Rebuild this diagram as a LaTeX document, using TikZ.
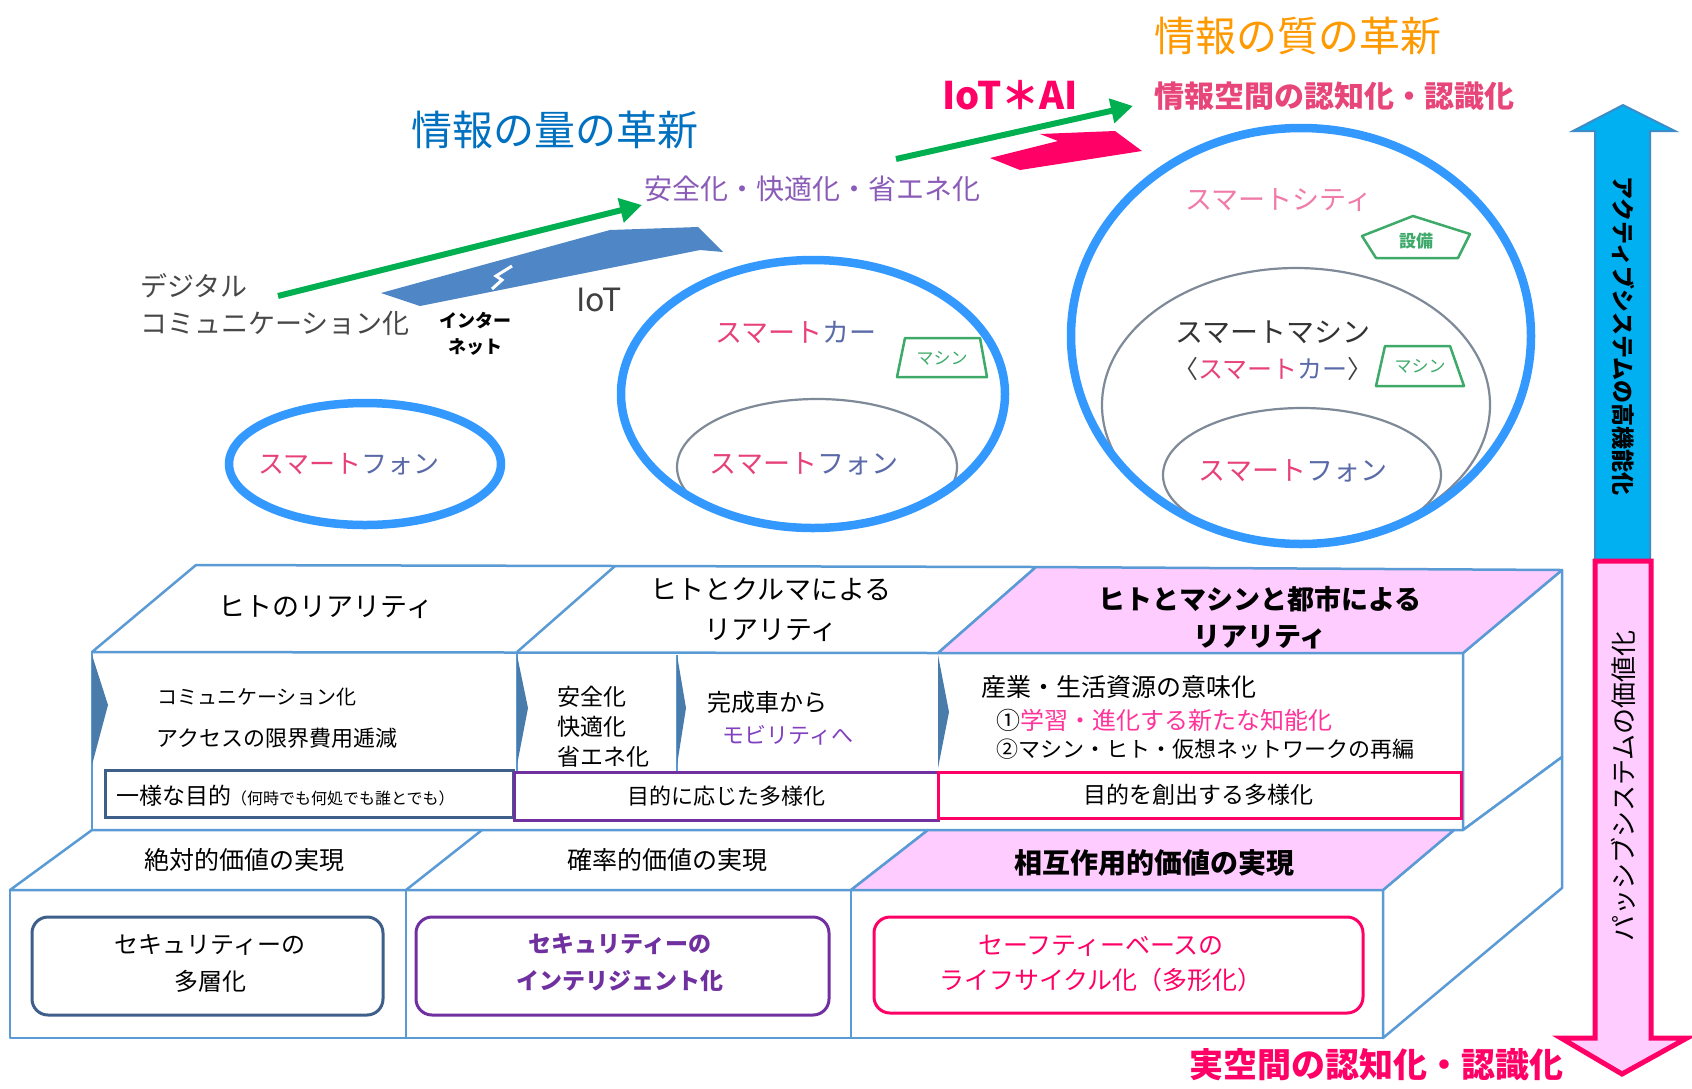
\documentclass[tikz,border=0pt]{standalone}
\usepackage{fontspec}
\setmainfont{Noto Sans CJK JP}
\usetikzlibrary{arrows.meta,shapes.geometric,calc}
\definecolor{boxblue}{HTML}{5B9BD5}
\definecolor{pinkface}{HTML}{FFCCFF}
\definecolor{hotpink}{HTML}{FF0066}
\definecolor{purp}{HTML}{7030A0}
\definecolor{ringblue}{HTML}{3399FF}
\definecolor{grn}{HTML}{00B050}
\definecolor{cyanar}{HTML}{00B0F0}
\definecolor{cyanedge}{HTML}{3C8CC8}
\definecolor{iotblue}{HTML}{4F86C6}
\definecolor{qtyblue}{HTML}{0070C0}
\definecolor{qualorange}{HTML}{FF9900}
\definecolor{smpink}{HTML}{E8407A}
\definecolor{smblue}{HTML}{5A6AA8}
\definecolor{citypink}{HTML}{F07AA8}
\definecolor{greyline}{HTML}{7F8A99}
\definecolor{trapgreen}{HTML}{3DAA6A}
\definecolor{darkbox}{HTML}{3E5F8A}
\definecolor{lavender}{HTML}{8A5CB8}
\definecolor{mobpurple}{HTML}{8040C0}
\definecolor{lightmag}{HTML}{FF3399}
\definecolor{cogpink}{HTML}{E8457A}
\newcommand{\myfs}[2]{\fontsize{#1}{#2}\selectfont}
\begin{document}
\begin{tikzpicture}[x=1pt,y=-1pt,
  every node/.style={inner sep=0pt,outer sep=0pt},
  edge/.style={draw=boxblue,line width=2.5pt,line join=round},
  ring/.style={draw=ringblue,line width=8.5pt},
  innerell/.style={draw=greyline,line width=2.2pt},
  grnarrow/.style={draw=grn,line width=6pt,-{Triangle[length=22pt,width=24pt]}},
  tagshape/.style={draw=trapgreen,line width=2.5pt,fill=white,line join=round},
  chev/.style={fill=boxblue!80!black},
  purposebox/.style={line width=3pt},
  valbox/.style={line width=3pt,rounded corners=16pt}]
\useasboundingbox (0,0) rectangle (1692,1088);
\fill[white] (0,0) rectangle (1692,1088);

% ---------- IoT block arrow ----------
\fill[iotblue] (381,293) -- (610,230) -- (698,227) -- (723,252) -- (700,250) -- (420,306) -- cycle;
\draw[white,line width=3pt,line join=miter] (492,289) -- (502,280) -- (496,276) -- (512,266);
% ---------- IoT*AI block arrow ----------
\fill[hotpink] (990,158) -- (1058,141) -- (1040,134) -- (1115,131) -- (1142,151) -- (1020,170) -- cycle;

% ---------- green arrows ----------
\coordinate (g1s) at (278,296);
\coordinate (g1e) at (642,205);
\coordinate (g2s) at (896,159);
\coordinate (g2e) at (1133,106);
\draw[grnarrow] (g1s) -- (g1e);
\draw[grnarrow] (g2s) -- (g2e);

% ---------- headings ----------
\node[text=qtyblue,font=\myfs{41}{44}] (qty) at (555,130) {情報の量の革新};
\node[text=qualorange,font=\myfs{41}{44}] (qual) at (1298,36) {情報の質の革新};
\node[text=hotpink,font=\bfseries\myfs{38}{40}] (iotai) at (1010,95) {IoT＊AI};
\node[text=cogpink,font=\bfseries\myfs{30}{34}] (cogn) at (1334,96) {情報空間の認知化・認識化};
\node[text=lavender,font=\myfs{28}{32}] (safe) at (812,189) {安全化・快適化・省エネ化};
\node[text=black!72,font=\myfs{27}{37},align=left,anchor=west] (digi) at (140,305) {デジタル\\コミュニケーション化};
\node[font=\bfseries\myfs{18}{26},align=center] (inet) at (475,334) {インター\\ネット};
\node[text=black!75,font=\myfs{32}{36}] (iot) at (599,300) {IoT};

% ---------- ellipses ----------
\draw[ring] (365,464) ellipse [x radius=136pt, y radius=61pt];
\begin{scope}
  \clip (813,394) ellipse [x radius=192pt, y radius=134pt];
  \draw[innerell] (817,467) ellipse [x radius=140pt, y radius=68pt];
\end{scope}
\draw[ring] (813,394) ellipse [x radius=192pt, y radius=134pt];
\begin{scope}
  \clip (1301,336) ellipse [x radius=230pt, y radius=208pt];
  \draw[innerell] (1296,405) ellipse [x radius=194pt, y radius=137pt];
  \draw[innerell] (1302,475) ellipse [x radius=139pt, y radius=67pt];
\end{scope}
\draw[ring] (1301,336) ellipse [x radius=230pt, y radius=208pt];

% tags
\draw[tagshape] (905,338) -- (980,338) -- (987,377) -- (897,377) -- cycle;
\draw[tagshape] (1385,346) -- (1450,346) -- (1464,386) -- (1376,386) -- cycle;
\draw[tagshape] (1362,236) -- (1413,216) -- (1470,234) -- (1458,258) -- (1376,258) -- cycle;
\node[text=trapgreen,font=\myfs{17}{20}] (tag1) at (942,358) {マシン};
\node[text=trapgreen,font=\myfs{17}{20}] (tag2) at (1420,366) {マシン};
\node[text=trapgreen,font=\bfseries\myfs{17}{20}] (setsubi) at (1416,241) {設備};

\node[font=\myfs{26}{30}] (sp1) at (349,464) {\color{smpink}スマート\color{smblue}フォン};
\node[font=\myfs{27}{30}] (car1) at (796,332) {\color{smpink}スマート\color{smblue}カー};
\node[font=\myfs{27}{30}] (sp2) at (804,464) {\color{smpink}スマート\color{smblue}フォン};
\node[font=\myfs{27}{30},text=citypink] (city) at (1279,200) {スマートシティ};
\node[font=\myfs{28}{30},text=black!80] (machine) at (1273,332) {スマートマシン};
\node[font=\myfs{25}{30}] (car2) at (1273,369) {\color{black!75}〈\color{smpink}スマート\color{smblue}カー\color{black!75}〉};
\node[font=\myfs{27}{30}] (sp3) at (1293,471) {\color{smpink}スマート\color{smblue}フォン};

% ---------- 3D box: upper tier ----------
\filldraw[edge,fill=white] (92,652) rectangle (1463,830);
\filldraw[edge,fill=white] (1463,653) -- (1562,570) -- (1562,757) -- (1463,830) -- cycle;
\filldraw[edge,fill=white] (92,652) -- (196,565) -- (1036,567) -- (938,653) -- cycle;
\filldraw[edge,fill=pinkface] (938,653) -- (1036,567) -- (1562,570) -- (1463,653) -- cycle;
\draw[edge] (517,652) -- (615,566);
\draw[edge] (517,652) -- (517,772);
\draw[edge] (677,655) -- (677,772);
% chevrons
\fill[chev] (92,655) -- (108,705) -- (92,765) -- cycle;
\fill[chev] (517,655) -- (528,708) -- (517,765) -- cycle;
\fill[chev] (677,655) -- (686,708) -- (677,765) -- cycle;
\fill[chev] (938,655) -- (949,712) -- (938,768) -- cycle;
% purpose boxes
\draw[purposebox,draw=darkbox] (105,770) rectangle (513,817);
\draw[purposebox,draw=purp] (514,772) rectangle (938,820);
\draw[purposebox,draw=hotpink] (938,772) rectangle (1461,818);

% ---------- 3D box: lower tier ----------
\filldraw[edge,fill=white] (10,890) rectangle (1383,1038);
\filldraw[edge,fill=white] (1383,890) -- (1454,830) -- (1463,830) -- (1562,757) -- (1562,888) -- (1383,1038) -- cycle;
\filldraw[edge,fill=white] (10,890) -- (92,830) -- (928,830) -- (851,890) -- cycle;
\filldraw[edge,fill=pinkface] (851,890) -- (928,830) -- (1454,830) -- (1383,890) -- cycle;
\draw[edge] (406,890) -- (482,830);
\draw[edge] (406,890) -- (406,1038);
\draw[edge] (851,890) -- (851,1038);
\draw[valbox,draw=darkbox] (32,917) rectangle (383,1015);
\draw[valbox,draw=purp] (416,917) rectangle (829,1015);
\draw[valbox,draw=hotpink] (874,917) rectangle (1363,1013);

% ---------- box texts ----------
\node[font=\myfs{27}{32}] (hitoR) at (326,607) {ヒトのリアリティ};
\node[font=\myfs{27}{40},align=center] (carR) at (771,610) {ヒトとクルマによる\\リアリティ};
\node[font=\bfseries\myfs{27}{37},align=center] (cityR) at (1260,618) {ヒトとマシンと都市による\\リアリティ};
\node[font=\myfs{20}{24}] (comm) at (257,697) {コミュニケーション化};
\node[font=\myfs{22}{26}] (access) at (277,738) {アクセスの限界費用逓減};
\node[font=\myfs{23}{30},align=left,anchor=west] (safe3) at (557,727) {安全化\\快適化\\省エネ化};
\node[font=\myfs{24}{28}] (kansei) at (767,702) {完成車から};
\node[font=\myfs{22}{26},text=mobpurple] (mobil) at (788,735) {モビリティへ};
\node[font=\myfs{25}{28},anchor=west] (sangyo) at (981,687) {産業・生活資源の意味化};
\node[font=\myfs{24}{28},anchor=west] (gak) at (996,720) {①{\color{lightmag}学習・進化する新たな知能化}};
\node[font=\myfs{22}{26},anchor=west] (netw) at (996,749) {②マシン・ヒト・仮想ネットワークの再編};
\node[font=\myfs{23}{26},anchor=west] (ichiyo) at (116,796) {一様な目的{\myfs{16}{18}（何時でも何処でも誰とでも）}};
\node[font=\myfs{22}{26}] (ojita) at (726,796) {目的に応じた多様化};
\node[font=\myfs{23}{26}] (soshutsu) at (1198,795) {目的を創出する多様化};
\node[font=\myfs{25}{30}] (zettai) at (244,860) {絶対的価値の実現};
\node[font=\myfs{25}{30}] (kakuritsu) at (667,860) {確率的価値の実現};
\node[font=\bfseries\myfs{28}{32}] (sogo) at (1154,863) {相互作用的価値の実現};
\node[font=\myfs{24}{37},align=center] (sec1) at (210,963) {セキュリティーの\\多層化};
\node[font=\bfseries\myfs{23}{37},align=center,text=purp] (sec2) at (620,963) {セキュリティーの\\インテリジェント化};
\node[font=\myfs{25}{35},align=center,text=hotpink] (safety) at (1101,964) {セーフティーベースの\\ライフサイクル化（多形化）};

% ---------- vertical arrows ----------
\filldraw[fill=cyanar,draw=cyanedge,line width=2pt,line join=miter]
  (1595,561) -- (1595,131) -- (1573,131) -- (1623,105) -- (1675,131) -- (1650,131) -- (1650,561) -- cycle;
\filldraw[fill=pinkface,draw=hotpink,line width=5pt,line join=miter]
  (1595,561) -- (1595,1038) -- (1561,1038) -- (1622,1074) -- (1687,1038) -- (1651,1038) -- (1651,561) -- cycle;
\node[rotate=-90,font=\bfseries\myfs{23}{26}] (active) at (1623,336) {アクティブシステムの高機能化};
\node[rotate=90,font=\myfs{26}{28}] (passive) at (1623,786) {パッシブシステムの価値化};
\node[text=hotpink,font=\bfseries\myfs{34}{38}] (real) at (1376,1065) {実空間の認知化・認識化};
\end{tikzpicture}
\end{document}
